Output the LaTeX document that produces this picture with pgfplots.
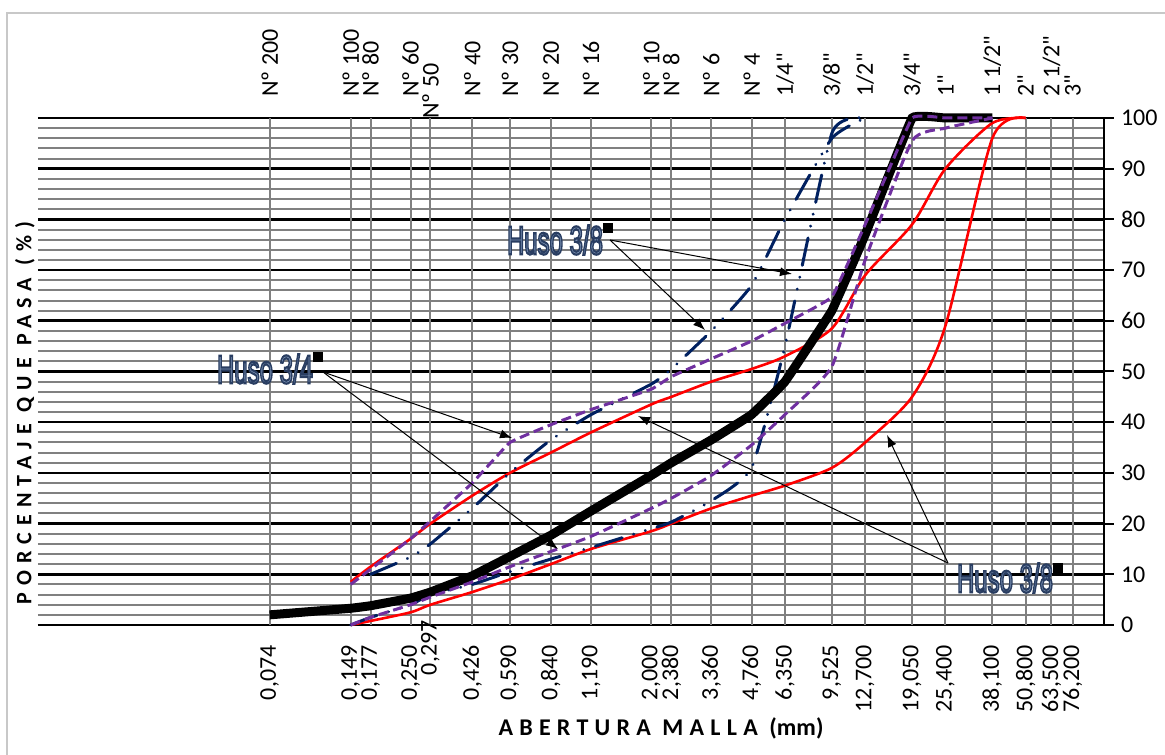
\documentclass[border=0pt]{standalone}
\usepackage{fontspec}
\usepackage{pgfplots}
\usepackage{pgfplotstable}
\pgfplotsset{compat=1.18}
\usetikzlibrary{arrows.meta}
\setmainfont{Carlito}
\newfontfamily\tl{Carlito}
\newfontfamily\ann{Liberation Sans}
\definecolor{rojo}{RGB}{255,0,0}
\definecolor{morado}{RGB}{112,48,160}
\definecolor{azul}{RGB}{0,32,96}
\definecolor{gridgray}{RGB}{128,128,128}
\definecolor{framegray}{RGB}{200,200,200}
\definecolor{annfill}{RGB}{125,148,182}

% Gradacion (curva negra)
\pgfplotstableread{
x y
0.074 2
0.149 3.3
0.177 3.8
0.250 5.3
0.297 6.5
0.426 9.7
0.590 13.5
0.840 17.7
1.190 22.5
2.000 29.5
2.380 32
3.360 36.5
4.760 41.5
6.350 48
9.525 62
12.700 77
19.050 100
25.400 100
38.100 100
}\negro

% Huso 3/4 limite superior (rojo)
\pgfplotstableread{
x y
0.149 8.5
0.177 11.5
0.250 17
0.297 20
0.426 25.5
0.590 30
0.840 34
1.190 38
2.000 43.5
2.380 45
3.360 48
4.760 50.5
6.350 53
9.525 58.5
12.700 69
19.050 79
25.400 90
38.100 99
50.800 100
}\rojosup

% Huso 3/4 limite inferior (rojo)
\pgfplotstableread{
x y
0.149 0
0.177 0.8
0.250 2.5
0.297 4
0.426 6.5
0.590 9
0.840 12
1.190 15
2.000 18.5
2.380 20
3.360 23
4.760 25.5
6.350 27.5
9.525 31
12.700 36
19.050 45
25.400 59
38.100 96
50.800 100
}\rojoinf

% morado superior
\pgfplotstableread{
x y
0.149 8
0.177 11
0.250 17
0.297 20.5
0.426 28
0.590 36
0.840 39.5
1.190 42.5
2.000 46.5
2.380 49
3.360 52.5
4.760 56
6.350 59.5
9.525 64.7
12.700 79
19.050 100
25.400 100
38.100 100
}\moradosup

% morado inferior
\pgfplotstableread{
x y
0.149 0
0.177 1.5
0.250 4
0.297 5.5
0.426 8.5
0.590 11.5
0.840 14.5
1.190 17.5
2.000 23
2.380 25
3.360 29.5
4.760 35.5
6.350 41.5
9.525 51
12.700 72
19.050 95.5
25.400 98
38.100 100
}\moradoinf

% azul superior
\pgfplotstableread{
x y
0.177 10
0.250 13.4
0.297 16
0.426 23
0.590 30
0.840 36.5
1.190 41.5
2.000 47.5
2.380 50.5
3.360 58
4.760 67
6.350 80
9.525 96
12.700 100
}\azulsup

% azul inferior
\pgfplotstableread{
x y
0.149 0
0.177 1.5
0.250 4
0.297 6
0.426 8
0.590 10.5
0.840 13
1.190 15.3
2.000 19
2.380 20.3
3.360 24.5
4.760 31
6.350 55
9.525 97
12.700 100
}\azulinf

\newcommand\outl[1]{\special{pdf:literal direct 2 Tr 1.1 w 0.16 0.24 0.38 RG}#1\special{pdf:literal direct 0 Tr}}
\tikzset{annlbl/.style={font=\ann\fontsize{20}{20}\selectfont, text=annfill, xscale=0.6, inner sep=0pt},
  annarr/.style={-{Latex[length=6pt,width=4.5pt]}, line width=0.5pt, black}}

\begin{document}
\begin{tikzpicture}
\useasboundingbox (0,0) rectangle (582.5pt,377pt);
\begin{scope}[shift={(0pt,377pt)}, x=0.5pt, y=-0.5pt]
\draw[framegray, line width=1pt] (7,13) rectangle (1185,800);
\end{scope}

\begin{axis}[
  at={(19pt,64.5pt)}, anchor=south west,
  scale only axis, width=533pt, height=253.5pt,
  xmode=log, xmin=0.01, xmax=100, ymin=0, ymax=100,
  xtick=\empty,
  extra x ticks={0.074,0.149,0.177,0.250,0.297,0.426,0.590,0.840,1.190,2.000,2.380,3.360,4.760,6.350,9.525,12.700,19.050,25.400,38.100,50.800,63.500,76.200},
  extra x tick labels={{0,074},{0,149},{0,177},{0,250},{0,297\kern-12.5pt},{0,426},{0,590},{0,840},{1,190},{2,000},{2,380},{3,360},{4,760},{6,350},{9,525},{12,700},{19,050},{25,400},{38,100},{50,800},{63,500},{76,200}},
  extra x tick style={xmajorgrids=true, major grid style={gridgray, line width=1pt}, major tick length=0pt},
  xticklabel style={font=\tl\fontsize{12}{12}\selectfont, yshift=-10pt, rotate=90, anchor=east, inner sep=0pt},
  ytick={0,10,...,100},
  minor y tick num=4,
  ymajorgrids, yminorgrids,
  major grid style={black, line width=1.3pt},
  minor grid style={gridgray, line width=1pt},
  axis x line*=bottom, axis y line*=right,
  axis line style={black, line width=1.3pt, -},
  y tick style={black, line width=1pt},
  major tick length=5pt, minor tick length=0pt,
  tick align=outside,
  yticklabel style={font=\tl\fontsize{12}{12}\selectfont, anchor=west},
  /pgf/number format/assume math mode=true,
  clip=false,
]
\addplot[rojo, line width=1.3pt, smooth, tension=0.45] table[x=x,y=y] {\rojosup};
\addplot[rojo, line width=1.3pt, smooth, tension=0.45] table[x=x,y=y] {\rojoinf};
\addplot[azul, line width=1.5pt, line cap=round, smooth, tension=0.3, dash pattern=on 14pt off 6pt on 0.1pt off 6pt on 0.1pt off 6pt] table[x=x,y=y] {\azulsup};
\addplot[azul, line width=1.5pt, line cap=round, smooth, tension=0.3, dash pattern=on 14pt off 6pt on 0.1pt off 6pt on 0.1pt off 6pt] table[x=x,y=y] {\azulinf};
\addplot[black, line width=4.5pt, smooth, tension=0.12] table[x=x,y=y] {\negro};
\addplot[morado, line width=1.5pt, smooth, tension=0.15, dash pattern=on 5pt off 2.5pt] table[x=x,y=y] {\moradosup};
\addplot[morado, line width=1.5pt, smooth, tension=0.3, dash pattern=on 5pt off 2.5pt] table[x=x,y=y] {\moradoinf};
\end{axis}

\begin{axis}[
  at={(19pt,64.5pt)}, anchor=south west,
  scale only axis, width=533pt, height=253.5pt,
  xmode=log, xmin=0.01, xmax=100, ymin=0, ymax=100,
  hide y axis,
  axis x line*=top,
  axis line style={draw=none},
  xtick={0.074,0.149,0.177,0.250,0.297,0.426,0.590,0.840,1.190,2.000,2.380,3.360,4.760,6.350,9.525,12.700,19.050,25.400,38.100,50.800,63.500,76.200},
  xticklabels={{Nº 200},{Nº 100},{Nº 80},{Nº 60},{\kern-11pt Nº 50},{Nº 40},{Nº 30},{Nº 20},{Nº 16},{Nº 10},{Nº 8},{Nº 6},{Nº 4},{1/4"},{3/8"},{1/2"},{3/4"},{1"},{1 1/2"},{2"},{2 1/2"},{3"}},
  major tick length=0pt, minor tick length=0pt,
  xtick style={draw=none},
  xticklabel style={font=\tl\fontsize{12}{12}\selectfont, yshift=10.5pt, rotate=90, anchor=west, inner sep=0pt},
]
\end{axis}

\begin{scope}[shift={(0pt,377pt)}, x=0.5pt, y=-0.5pt]
\node[rotate=90, font=\tl\bfseries\fontsize{11}{11}\selectfont] at (25,413) {\addfontfeature{LetterSpace=32}PORCENTAJE QUE PASA (\%)};
\node[font=\tl\bfseries\fontsize{12}{12}\selectfont] at (661,728) {\addfontfeature{LetterSpace=26}ABERTURA MALLA \addfontfeature{LetterSpace=0}(mm)};
% Huso 3/8 (arriba)
\node[annlbl] at (555,240) {\outl{Huso 3/8}};
\fill[black] (603,223) rectangle (613,233);
\draw[annarr] (610,240) -- (792,274);
\draw[annarr] (610,240) -- (705,330);
% Huso 3/4
\node[annlbl] at (265,369) {\outl{Huso 3/4}};
\fill[black] (313,352) rectangle (323,362);
\draw[annarr] (323,372) -- (512,438);
\draw[annarr] (323,372) -- (558,549);
% Huso 3/8 (abajo)
\node[annlbl] at (1005,578) {\outl{Huso 3/8}};
\fill[black] (1053,563) rectangle (1063,573);
\draw[annarr] (948,563) -- (638,416);
\draw[annarr] (948,563) -- (887,435);
\end{scope}
\end{tikzpicture}
\end{document}
